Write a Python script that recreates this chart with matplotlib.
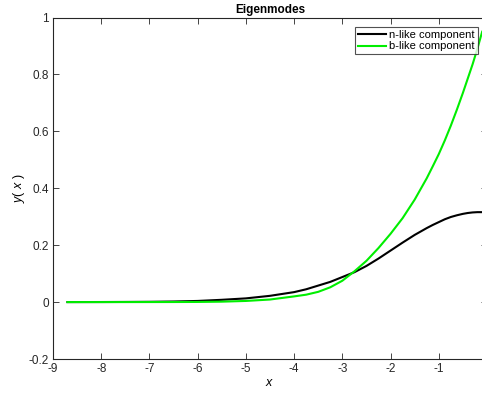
import matplotlib
matplotlib.use("Agg")
import matplotlib.pyplot as plt

plt.rcParams['font.family'] = ['Liberation Sans', 'DejaVu Sans']
plt.rcParams['mathtext.fontset'] = 'custom'
plt.rcParams['mathtext.it'] = 'Liberation Sans:italic'
plt.rcParams['mathtext.rm'] = 'Liberation Sans'

x_vals = [-8.7, -8.0, -7.5, -7.0, -6.5, -6.0, -5.5, -5.0, -4.5, -4.0, -3.75, -3.5,
          -3.25, -3.0, -2.75, -2.5, -2.25, -2.0, -1.75, -1.5, -1.25, -1.125, -1.0,
          -0.875, -0.75, -0.625, -0.5, -0.4, -0.3, -0.2, -0.1]
n_like = [0.0, 0.0002, 0.0005, 0.001, 0.002, 0.004, 0.008, 0.013, 0.022, 0.035,
          0.045, 0.058, 0.071, 0.088, 0.105, 0.127, 0.153, 0.181, 0.209, 0.236,
          0.26, 0.271, 0.281, 0.291, 0.299, 0.305, 0.310, 0.313, 0.315, 0.316, 0.316]
b_like = [0.0, 0.0, 0.0, 0.0001, 0.0002, 0.0005, 0.0015, 0.004, 0.009, 0.02,
          0.026, 0.036, 0.052, 0.075, 0.108, 0.145, 0.19, 0.24, 0.295, 0.36,
          0.435, 0.477, 0.52, 0.568, 0.62, 0.676, 0.735, 0.785, 0.835, 0.89, 0.95]
y_ticks = [-0.2, 0, 0.2, 0.4, 0.6, 0.8, 1]
y_tick_labels = ['-0.2', '0', '0.2', '0.4', '0.6', '0.8', '1']
x_ticks = [-9, -8, -7, -6, -5, -4, -3, -2, -1]
x_tick_labels = ['-9', '-8', '-7', '-6', '-5', '-4', '-3', '-2', '-1']

fig = plt.figure(figsize=(4.82, 3.94), dpi=100)
ax = fig.add_axes([53/482, 1 - 359/394, (487 - 53)/482, (359 - 17.5)/394])

ax.plot(x_vals, n_like, color='black', lw=1.5, label='n-like component')
ax.plot(x_vals, b_like, color='#00ee00', lw=1.5, label='b-like component')

ax.set_xlim(-9, 0)
ax.set_ylim(-0.2, 1)
ax.set_xticks(x_ticks)
ax.set_xticklabels(x_tick_labels)
ax.set_yticks(y_ticks)
ax.set_yticklabels(y_tick_labels)
ax.tick_params(direction='in', top=True, right=True, labelsize=8.5, length=4,
               width=0.6, colors='#262626', pad=3)
for s in ax.spines.values():
    s.set_linewidth(0.8)
    s.set_color('#262626')

ax.set_title('Eigenmodes', fontsize=8.5, fontweight='bold', pad=3)
ax.set_xlabel(r'$x$', fontsize=9, labelpad=1)
ax.set_ylabel(r'$y$( $x$ )', fontsize=9, labelpad=1)

leg = ax.legend(loc='upper right', fontsize=8, frameon=True, fancybox=False,
                borderpad=0.25, handlelength=2.5, handletextpad=0.3,
                labelspacing=0.15, borderaxespad=0.85)
leg.get_frame().set_edgecolor('#262626')
leg.get_frame().set_linewidth(0.8)

fig.savefig('out.png', dpi=100)
